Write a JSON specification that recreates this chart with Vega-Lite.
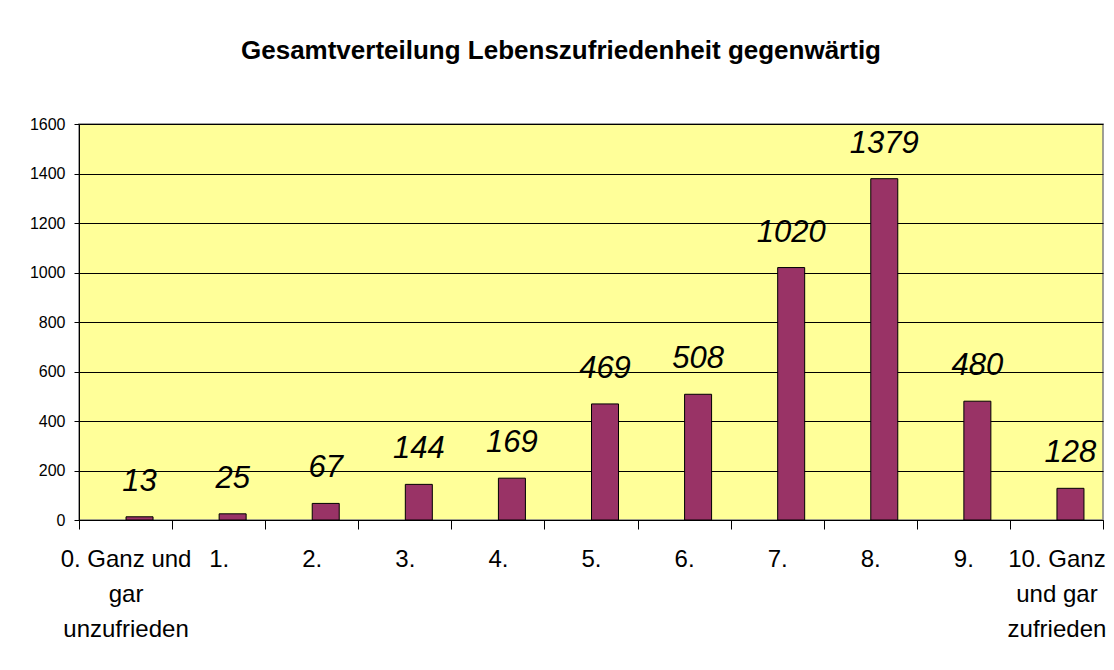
{
  "$schema": "https://vega.github.io/schema/vega-lite/v6.json",
  "width": 1024,
  "height": 396,
  "autosize": {"type": "none"},
  "padding": {"left": 79, "top": 124, "right": 11, "bottom": 150},
  "background": "white",
  "title": {
    "text": "Gesamtverteilung Lebenszufriedenheit gegenwärtig",
    "font": "Liberation Sans",
    "fontSize": 26,
    "fontWeight": "bold",
    "color": "black",
    "anchor": "middle",
    "dx": -30,
    "offset": 52
  },
  "data": {
    "values": [
      {"kategorie": "0. Ganz und gar unzufrieden", "anzahl": 13},
      {"kategorie": "1.", "anzahl": 25},
      {"kategorie": "2.", "anzahl": 67},
      {"kategorie": "3.", "anzahl": 144},
      {"kategorie": "4.", "anzahl": 169},
      {"kategorie": "5.", "anzahl": 469},
      {"kategorie": "6.", "anzahl": 508},
      {"kategorie": "7.", "anzahl": 1020},
      {"kategorie": "8.", "anzahl": 1379},
      {"kategorie": "9.", "anzahl": 480},
      {"kategorie": "10. Ganz und gar zufrieden", "anzahl": 128}
    ]
  },
  "encoding": {
    "x": {
      "field": "kategorie",
      "type": "nominal",
      "sort": null,
      "scale": {"paddingInner": 0, "paddingOuter": 0},
      "axis": {
        "title": null,
        "labelAngle": 0,
        "labelFont": "Liberation Sans",
        "labelFontSize": 24,
        "labelColor": "black",
        "labelPadding": 18,
        "labelLineHeight": 35,
        "labelBaseline": "top",
        "labelExpr": "datum.value == '0. Ganz und gar unzufrieden' ? ['0. Ganz und', 'gar', 'unzufrieden'] : datum.value == '10. Ganz und gar zufrieden' ? ['10. Ganz', 'und gar', 'zufrieden'] : datum.value",
        "tickBand": "extent",
        "tickSize": 9,
        "tickColor": "black",
        "domainColor": "black",
        "labelOverlap": false,
        "grid": false
      }
    },
    "y": {
      "field": "anzahl",
      "type": "quantitative",
      "scale": {"domain": [0, 1600], "nice": false},
      "axis": {
        "title": null,
        "format": "d",
        "values": [0, 200, 400, 600, 800, 1000, 1200, 1400, 1600],
        "labelFont": "Liberation Sans",
        "labelFontSize": 16,
        "labelColor": "black",
        "labelPadding": 9,
        "tickSize": 5,
        "tickColor": "black",
        "domainColor": "black",
        "gridColor": "black",
        "gridOpacity": 1,
        "gridWidth": 1
      }
    }
  },
  "layer": [
    {
      "mark": {"type": "bar", "size": 27, "xOffset": 14, "fill": "#993366", "stroke": "black", "strokeWidth": 1}
    },
    {
      "mark": {"type": "text", "xOffset": 14, "dy": -26, "baseline": "alphabetic", "font": "Liberation Sans", "fontSize": 31, "fontStyle": "italic", "color": "black"},
      "encoding": {"text": {"field": "anzahl", "type": "quantitative"}}
    }
  ],
  "config": {
    "view": {"fill": "#FFFF99", "stroke": "#808080", "strokeWidth": 1.5}
  }
}
